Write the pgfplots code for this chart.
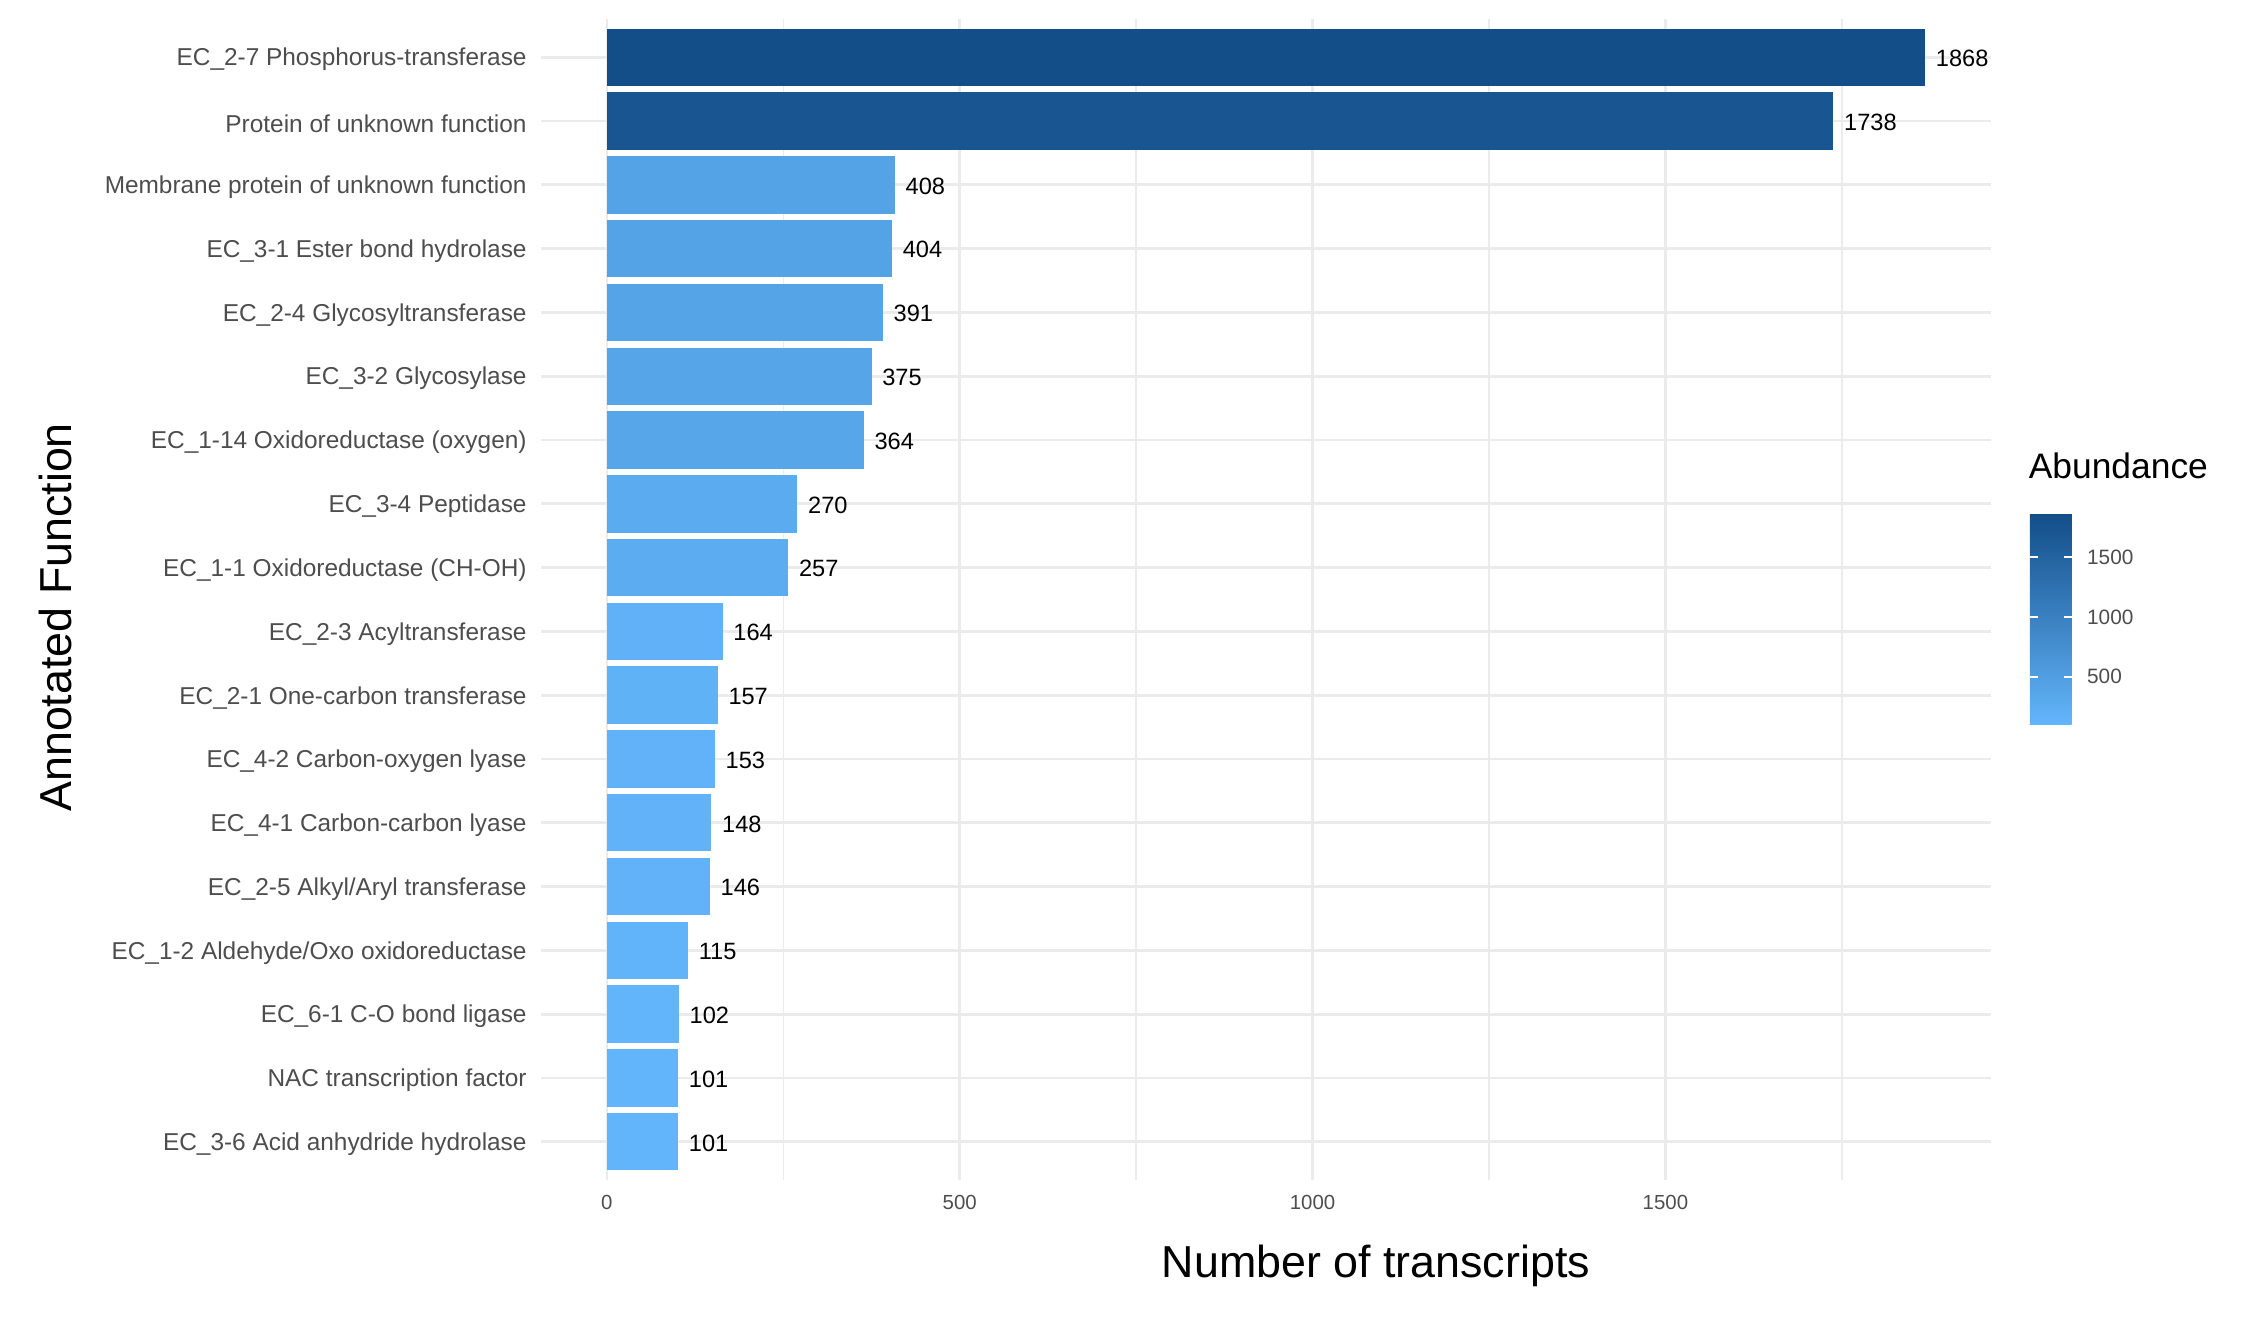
\documentclass[border=0pt]{standalone}
\usepackage{fontspec}
\setmainfont{Liberation Sans}
\usepackage{pgfplots}
\pgfplotsset{compat=1.18}
\pgfplotsset{/pgf/number format/assume math mode=true, /pgf/number format/1000 sep={}}
\definecolor{ablo}{RGB}{99,181,251}
\definecolor{abhi}{RGB}{19,78,136}
\definecolor{gridc}{RGB}{235,235,235}
\definecolor{tickc}{RGB}{77,77,77}
\newcommand{\fs}[1]{\fontsize{#1}{#1}\selectfont}
\pgfplotsset{mybar/.style={xbar, bar width=0.9, bar shift=0pt, draw=none, fill=abhi!#1!ablo}}
\begin{document}
\begin{tikzpicture}
\path[use as bounding box] (0,0) rectangle (564.25pt,330.75pt);
\begin{axis}[
  at={(135.25pt,35.75pt)}, anchor=south west,
  scale only axis, width=362.5pt, height=290.25pt,
  xmin=-93.4, xmax=1961.4, ymin=0.4, ymax=18.6, y dir=reverse,
  axis line style={draw=none},
  major tick length=0pt, minor tick length=0pt,
  xtick={0,500,1000,1500}, minor xtick={250,750,1250,1750},
  ytick={1,...,18},
  yticklabels={EC\_2-7 Phosphorus-transferase, Protein of unknown function, Membrane protein of unknown function, EC\_3-1 Ester bond hydrolase, EC\_2-4 Glycosyltransferase, EC\_3-2 Glycosylase, EC\_1-14 Oxidoreductase (oxygen), EC\_3-4 Peptidase, EC\_1-1 Oxidoreductase (CH-OH), EC\_2-3 Acyltransferase, EC\_2-1 One-carbon transferase, EC\_4-2 Carbon-oxygen lyase, EC\_4-1 Carbon-carbon lyase, EC\_2-5 Alkyl/Aryl transferase, EC\_1-2 Aldehyde/Oxo oxidoreductase, EC\_6-1 C-O bond ligase, NAC transcription factor, EC\_3-6 Acid anhydride hydrolase},
  xmajorgrids, xminorgrids, ymajorgrids,
  major grid style={gridc, line width=0.7pt},
  minor grid style={gridc, line width=0.4pt},
  xticklabel style={font=\fs{5.1}, text=tickc, anchor=north, inner sep=0pt, yshift=-3.5pt},
  yticklabel style={font=\fs{6.1}, text=tickc, anchor=east, inner sep=0pt, xshift=-3.4pt, yshift=-0.6pt},
  xlabel={Number of transcripts},
  xlabel style={font=\fs{11.2}, at={(axis description cs:0.4276,-0.0836)}, anchor=base west, inner sep=0pt},
  ylabel={Annotated Function},
  ylabel style={font=\fs{11.2}, at={(axis description cs:-0.3238,0.4846)}, anchor=base, inner sep=0pt},
  point meta=x,
  nodes near coords,
  every node near coord/.style={anchor=west, inner sep=0pt, xshift=2.5pt, yshift=-0.3pt, font=\fs{5.9}, text=black},
  colormap={abund}{rgb255=(99,181,251) rgb255=(19,78,136)},
  point meta min=101, point meta max=1868,
  colorbar,
  colorbar style={
    at={(parent axis.north east)}, anchor=north west,
    xshift=1.2pt, yshift=-123.6pt,
    scale only axis, width=10.4pt, height=52.7pt,
    xtick=\empty,
    ytick={500,1000,1500},
    axis line style={draw=none},
    major tick length=2pt, tick align=inside,
    ytick pos=both, yticklabel pos=right,
    ytick style={white, line width=0.5pt},
    yticklabel style={font=\fs{5.2}, text=tickc, anchor=west, inner sep=0pt, xshift=3.7pt},
  },
]
\addplot[mybar=100]  coordinates {(1868,1)};
\addplot[mybar=92.6] coordinates {(1738,2)};
\addplot[mybar=17.4] coordinates {(408,3)};
\addplot[mybar=17.1] coordinates {(404,4)};
\addplot[mybar=16.4] coordinates {(391,5)};
\addplot[mybar=15.5] coordinates {(375,6)};
\addplot[mybar=14.9] coordinates {(364,7)};
\addplot[mybar=9.6]  coordinates {(270,8)};
\addplot[mybar=8.8]  coordinates {(257,9)};
\addplot[mybar=3.6]  coordinates {(164,10)};
\addplot[mybar=3.2]  coordinates {(157,11)};
\addplot[mybar=2.9]  coordinates {(153,12)};
\addplot[mybar=2.7]  coordinates {(148,13)};
\addplot[mybar=2.5]  coordinates {(146,14)};
\addplot[mybar=0.8]  coordinates {(115,15)};
\addplot[mybar=0.1]  coordinates {(102,16)};
\addplot[mybar=0]    coordinates {(101,17)};
\addplot[mybar=0]    coordinates {(101,18)};
\end{axis}
\node[anchor=base west, inner sep=0pt, font=\fs{8.85}] at (507pt,211.2pt) {Abundance};
\end{tikzpicture}
\end{document}
